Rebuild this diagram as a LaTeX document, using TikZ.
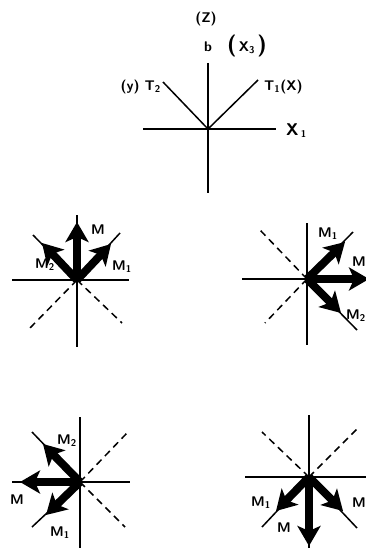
\documentclass[tikz,border=0pt]{standalone}
\usepackage{tikz}
\usetikzlibrary{arrows.meta, positioning, calc}

\tikzset{
  axis/.style={line width=1.5pt},
  thickaxis/.style={line width=2.4pt},
  guide/.style={line width=1.5pt, dash pattern=on 7pt off 5pt},
  moment/.style={line width=8pt, -{Stealth[length=20pt, width=23pt, inset=5pt]}},
  lbl/.style={font=\sffamily\bfseries\fontsize{14}{15}\selectfont, inner sep=0pt}
}

\begin{document}
\begin{tikzpicture}[x=1pt, y=-1pt]
  \useasboundingbox (0,0) rectangle (366,548);
  \clip (0,0) rectangle (366,548);

  % Reference axes (top)
  \coordinate (oA) at (208,129);
  \coordinate (aW) at (143,129);
  \coordinate (aE) at (276,129);
  \coordinate (aN) at (208,63);
  \coordinate (aS) at (208,193);
  \coordinate (aT2) at (163,82);
  \coordinate (aT1) at (258,80);
  \draw[thickaxis] (aW) -- (aE);
  \draw[axis] (aN) -- (aS);
  \draw[axis] (aT2) -- (oA) -- (aT1);
  \node[lbl] (zlbl) at (206,19) {(Z)};
  \node[lbl] (blbl) at (208,47) {b};
  \node[lbl] (x3lbl) at (247,46) {{\fontsize{22}{22}\selectfont(}\,X\textsubscript{3}\,{\fontsize{22}{22}\selectfont)}};
  \node[lbl, anchor=east] (t2lbl) at (161,87) {(y) T\textsubscript{2}};
  \node[lbl, anchor=west] (t1lbl) at (264,87) {T\textsubscript{1}(X)};
  \node[lbl, anchor=west] (x1lbl) at (286,131) {{\fontsize{17}{17}\selectfont X}\,\textsubscript{1}};

  % Panel B: middle left
  \coordinate (oB) at (77,280);
  \coordinate (bW) at (12,280);
  \coordinate (bE) at (129,280);
  \coordinate (bN) at (77,215);
  \coordinate (bS) at (77,347);
  \coordinate (bUL) at (33,235);
  \coordinate (bUR) at (120,233);
  \coordinate (bLL) at (30,328);
  \coordinate (bLR) at (122,323);
  \draw[axis] (bW) -- (bE);
  \draw[axis] (bN) -- (bS);
  \draw[axis] (bUL) -- (oB) -- (bUR);
  \draw[guide] (oB) -- (bLL);
  \draw[guide] (oB) -- (bLR);
  \coordinate (bM) at (77,222);
  \coordinate (bM1) at (111,244);
  \coordinate (bM2) at (42,243);
  \draw[moment] (oB) -- (bM);
  \draw[moment] (oB) -- (bM1);
  \draw[moment] (oB) -- (bM2);
  \node[lbl] (bMlbl) at (98,230) {M};
  \node[lbl] (bM2lbl) at (45,265) {M\textsubscript{2}};
  \node[lbl] (bM1lbl) at (122,267) {M\textsubscript{1}};

  % Panel C: middle right
  \coordinate (oC) at (307,279);
  \coordinate (cW) at (242,279);
  \coordinate (cE) at (370,279);
  \coordinate (cN) at (307,223);
  \coordinate (cS) at (307,345);
  \coordinate (cUL) at (260,230);
  \coordinate (cLL) at (265,323);
  \coordinate (cUR) at (353,232);
  \coordinate (cLR) at (357,330);
  \draw[axis] (cW) -- (cE);
  \draw[axis] (cN) -- (cS);
  \draw[guide] (oC) -- (cUL);
  \draw[guide] (oC) -- (cLL);
  \draw[axis] (cUR) -- (oC) -- (cLR);
  \coordinate (cM) at (369,279);
  \coordinate (cM1) at (345,242);
  \coordinate (cM2) at (341,313);
  \draw[moment] (oC) -- (cM);
  \draw[moment] (oC) -- (cM1);
  \draw[moment] (oC) -- (cM2);
  \node[lbl] (cM1lbl) at (328,234) {M\textsubscript{1}};
  \node[lbl, anchor=east] (cMlbl) at (366,262) {M};
  \node[lbl, anchor=east] (cM2lbl) at (366,316) {M\textsubscript{2}};

  % Panel D: bottom left
  \coordinate (oD) at (80,482);
  \coordinate (dW) at (12,482);
  \coordinate (dE) at (130,482);
  \coordinate (dN) at (80,417);
  \coordinate (dS) at (80,552);
  \coordinate (dUL) at (32,432);
  \coordinate (dLL) at (32,527);
  \coordinate (dUR) at (127,433);
  \coordinate (dLR) at (125,527);
  \draw[axis] (dW) -- (dE);
  \draw[axis] (dN) -- (dS);
  \draw[axis] (dUL) -- (oD) -- (dLL);
  \draw[guide] (oD) -- (dUR);
  \draw[guide] (oD) -- (dLR);
  \coordinate (dM) at (20,482);
  \coordinate (dM2) at (43,444);
  \coordinate (dM1) at (46,515);
  \draw[moment] (oD) -- (dM);
  \draw[moment] (oD) -- (dM2);
  \draw[moment] (oD) -- (dM1);
  \node[lbl] (dM2lbl) at (67,441) {M\textsubscript{2}};
  \node[lbl] (dMlbl) at (17,500) {M};
  \node[lbl] (dM1lbl) at (60,533) {M\textsubscript{1}};

  % Panel E: bottom right
  \coordinate (oE) at (309,477);
  \coordinate (eW) at (245,477);
  \coordinate (eE) at (370,477);
  \coordinate (eN) at (309,415);
  \coordinate (eS) at (309,552);
  \coordinate (eUL) at (262,432);
  \coordinate (eUR) at (358,428);
  \coordinate (eLL) at (262,527);
  \coordinate (eLR) at (357,528);
  \draw[axis] (eW) -- (eE);
  \draw[axis] (eN) -- (eS);
  \draw[guide] (oE) -- (eUL);
  \draw[guide] (oE) -- (eUR);
  \draw[axis] (eLL) -- (oE) -- (eLR);
  \coordinate (eM) at (309,546);
  \coordinate (eM1) at (276,511);
  \coordinate (eM3) at (343,511);
  \draw[moment] (oE) -- (eM);
  \draw[moment] (oE) -- (eM1);
  \draw[moment] (oE) -- (eM3);
  \node[lbl] (eM1lbl) at (261,503) {M\textsubscript{1}};
  \node[lbl] (eMlbl) at (284,528) {M};
  \node[lbl] (eM3lbl) at (359,503) {M};
\end{tikzpicture}
\end{document}
